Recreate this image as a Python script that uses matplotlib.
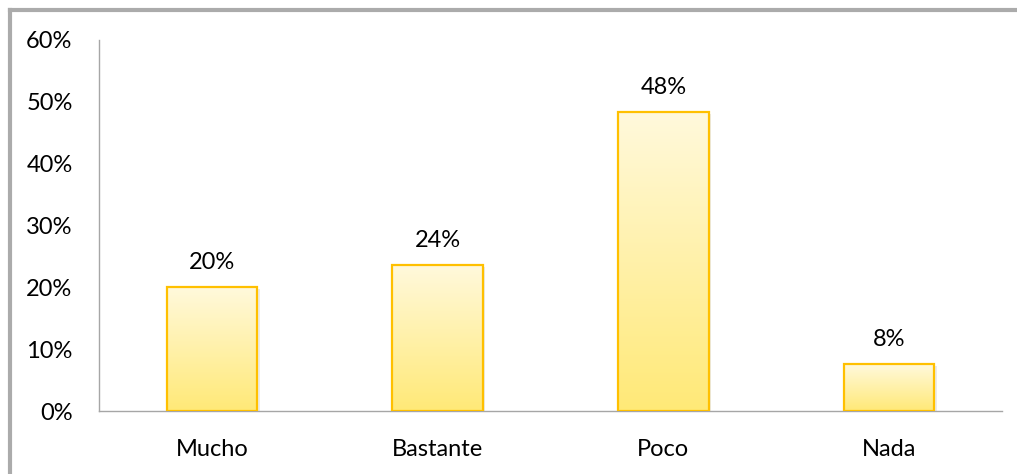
import numpy as np
import matplotlib.pyplot as plt
from matplotlib.colors import LinearSegmentedColormap
from matplotlib.patches import Rectangle

categories = ["Mucho", "Bastante", "Poco", "Nada"]
values = [20.0, 23.6, 48.3, 7.6]
labels = ["20%", "24%", "48%", "8%"]

plt.rcParams['font.family'] = ['Lato', 'DejaVu Sans']
fs = 17

fig = plt.figure(figsize=(10.17, 4.74), dpi=100)
ax = fig.add_axes([99 / 1017, 1 - 411 / 474, 903 / 1017, 371 / 474])

x = np.arange(len(categories))
bars = ax.bar(x, values, width=0.4, color='none', edgecolor='#FFC000', linewidth=1.6, zorder=3)

cmap = LinearSegmentedColormap.from_list('g', ['#FFE977', '#FFF9DC'])
grad = np.linspace(0, 1, 256).reshape(-1, 1)
for b in bars:
    x0, w, h = b.get_x(), b.get_width(), b.get_height()
    # soft shadow
    ax.add_patch(Rectangle((x0 + 0.012, 0), w, h - 0.25, color='#000000', alpha=0.08, zorder=1, linewidth=0))
    im = ax.imshow(grad, cmap=cmap, extent=[x0, x0 + w, 0, h], origin='lower', aspect='auto', zorder=2)
    im.set_clip_path(b)

for xi, v, lab in zip(x, values, labels):
    ax.text(xi, v + 2.3, lab, ha='center', va='bottom', fontsize=fs, color='#000000')

ax.set_xlim(-0.5, 3.5)
ax.set_ylim(0, 60)
ax.set_yticks(np.arange(0, 61, 10))
ax.set_yticklabels([f"{t}%" for t in range(0, 61, 10)], fontsize=fs)
ax.set_xticks(x)
ax.set_xticklabels(categories, fontsize=fs)
ax.tick_params(axis='x', length=0, pad=20)
ax.tick_params(axis='y', length=0, pad=19)
for s in ['top', 'right']:
    ax.spines[s].set_visible(False)
for s in ['left', 'bottom']:
    ax.spines[s].set_color('#A6A6A6')
    ax.spines[s].set_linewidth(1.0)

# outer frame (left and top only visible)
fig.add_artist(plt.Line2D([10 / 1017, 10 / 1017], [0, 1 - 10 / 474], color='#ABABAB', linewidth=3))
fig.add_artist(plt.Line2D([10 / 1017, 1], [1 - 10 / 474, 1 - 10 / 474], color='#ABABAB', linewidth=3))

fig.savefig('out.png', dpi=100)
